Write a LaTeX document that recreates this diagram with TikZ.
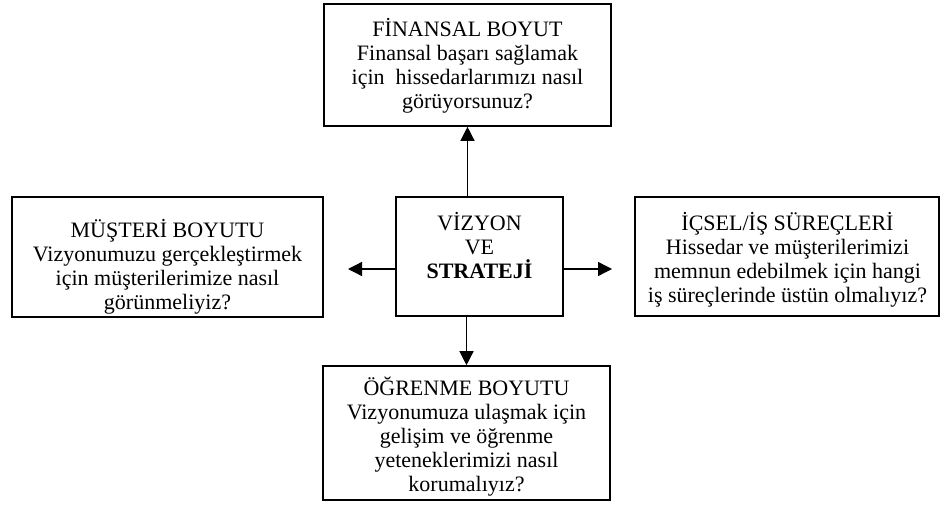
\documentclass[tikz,border=0pt]{standalone}
\usepackage{fontspec}
\setmainfont{Liberation Serif}
\usetikzlibrary{arrows.meta}
\begin{document}
\begin{tikzpicture}[x=1pt,y=-1pt,
  frame/.style={draw=black,line width=1.6pt,inner sep=0pt},
  caption/.style={align=center,inner sep=0pt,font=\fontsize{22}{24}\selectfont},
  link/.style={line width=1.3pt,-{Triangle[length=14pt,width=14pt]}}]
\useasboundingbox (0,0) rectangle (941,511);
% boxes
\node[frame,minimum width=287pt,minimum height=122pt] (fin) at (467.5,65) {};
\node[frame,minimum width=311pt,minimum height=120pt] (mus) at (167.5,257) {};
\node[frame,minimum width=167pt,minimum height=119pt] (viz) at (479.5,256.5) {};
\node[frame,minimum width=304pt,minimum height=119pt] (ics) at (787,256.5) {};
\node[frame,minimum width=287pt,minimum height=134pt] (ogr) at (466.5,433) {};
% texts
\node[caption] (finT) at (467.5,66) {FİNANSAL BOYUT\\Finansal başarı sağlamak\\için~ hissedarlarımızı nasıl\\görüyorsunuz?};
\node[caption] (musT) at (167.5,267) {MÜŞTERİ BOYUTU\\Vizyonumuzu gerçekleştirmek\\için müşterilerimize nasıl\\görünmeliyiz?};
\node[caption] (vizT) at (479.5,246) {VİZYON\\VE\\\textbf{STRATEJİ}};
\node[caption] (icsT) at (787.5,260) {İÇSEL/İŞ SÜREÇLERİ\\Hissedar ve müşterilerimizi\\memnun edebilmek için hangi\\iş süreçlerinde üstün olmalıyız?};
\node[caption] (ogrT) at (466.5,437) {ÖĞRENME BOYUTU\\Vizyonumuza ulaşmak için\\gelişim ve öğrenme\\yeteneklerimizi nasıl\\korumalıyız?};
% arrow tips that stop short of the side boxes
\coordinate (lt) at (348,269);
\coordinate (rt) at (612,269);
% connectors
\draw[link] (fin.south |- viz.north) -- (fin.south);
\draw[link] (ogr.north |- viz.south) -- (ogr.north);
\draw[link] (viz.west |- lt) -- (lt);
\draw[link] (viz.east |- rt) -- (rt);
\end{tikzpicture}
\end{document}
